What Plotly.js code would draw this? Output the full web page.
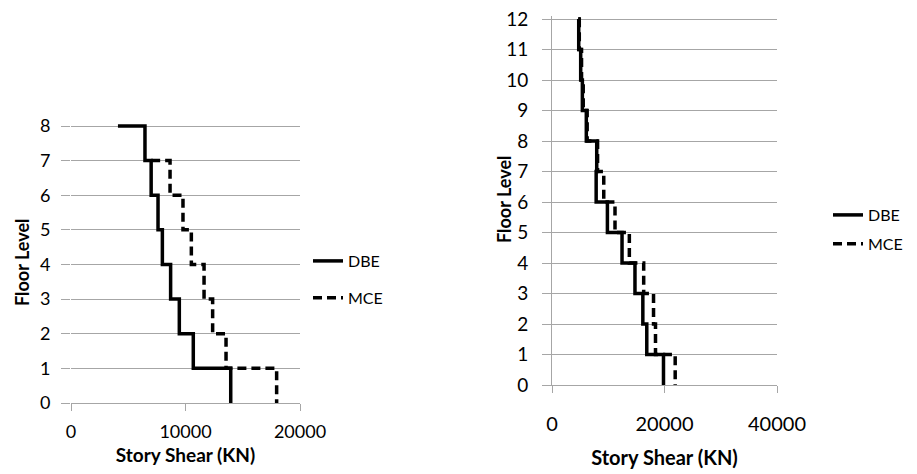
<!DOCTYPE html>
<html>
<head>
<meta charset="utf-8">
<script src="https://cdn.plot.ly/plotly-3.0.1.min.js"></script>
<style>html,body{margin:0;padding:0;background:#fff;}#chart{width:917px;height:474px;}</style>
</head>
<body>
<div id="chart"></div>
<script>
// Left building (8 floors)
const leftFloorsDBE = [8, 7, 6, 5, 4, 3, 2, 1, 0];
const leftDBE = [4100, 6460, 7000, 7600, 7980, 8700, 9460, 10680, 13950];
const leftFloorsMCE = [7, 6, 5, 4, 3, 2, 1, 0];
const leftMCE = [7000, 8650, 9780, 10510, 11620, 12370, 13540, 17960];

// Right building (12 floors)
const rightFloors = [12, 11, 10, 9, 8, 7, 6, 5, 4, 3, 2, 1, 0];
const rightDBE = [4650, 4750, 5100, 5400, 6100, 7950, 7850, 9850, 12450, 14750, 16150, 16850, 19820];
const rightMCE = [4700, 4850, 5250, 5550, 6250, 8100, 9200, 11200, 13750, 16300, 18050, 18400, 21900];

const seriesNames = ['DBE', 'MCE'];
const leftXTicks = [0, 10000, 20000];
const rightXTicks = [0, 20000, 40000];
const xTitle = 'Story Shear (KN)';
const yTitle = 'Floor Level';

const W = 917, H = 474;
const FONT = 'Lato, "Open Sans", sans-serif';
const GRID = '#a6a6a6';

function px(x) { return x / W; }
function py(y) { return 1 - y / H; }

const traces = [
  {x: leftDBE, y: leftFloorsDBE, name: seriesNames[0], xaxis: 'x', yaxis: 'y', mode: 'lines',
   line: {shape: 'hv', color: '#000', width: 3.5}, legend: 'legend', legendgroup: 'a'},
  {x: leftMCE, y: leftFloorsMCE, name: seriesNames[1], xaxis: 'x', yaxis: 'y', mode: 'lines',
   line: {shape: 'hv', color: '#000', width: 3.5, dash: '9px,5px'}, legend: 'legend', legendgroup: 'b'},
  {x: rightDBE, y: rightFloors, name: seriesNames[0], xaxis: 'x2', yaxis: 'y2', mode: 'lines',
   line: {shape: 'hv', color: '#000', width: 3.5}, legend: 'legend2', legendgroup: 'c'},
  {x: rightMCE, y: rightFloors, name: seriesNames[1], xaxis: 'x2', yaxis: 'y2', mode: 'lines',
   line: {shape: 'hv', color: '#000', width: 3.5, dash: '9px,5px'}, legend: 'legend2', legendgroup: 'd'}
];

// pixel geometry
const L = {x0: 71, x1: 300, yBottom: 403, yTop: 126, ymax: 8, yext: 0.06};
const R = {x0: 552, x1: 777, yBottom: 385, yTop: 19, ymax: 12, yext: 0.1};
function yDomain(g) {
  const per = (g.yBottom - g.yTop) / g.ymax;
  return [py(g.yBottom), py(g.yTop - per * g.yext)];
}

const xCommon = {
  showgrid: false, zeroline: false, showline: true, linecolor: GRID, linewidth: 1,
  ticks: 'outside', ticklen: 7, tickcolor: GRID, tickwidth: 1,
  fixedrange: true
};
const yCommon = {
  showgrid: true, gridcolor: GRID, gridwidth: 1, zeroline: false,
  ticks: 'outside', ticklen: 9, tickcolor: GRID, tickwidth: 1,
  dtick: 1, tick0: 0,
  fixedrange: true
};

const layout = {
  width: W, height: H,
  margin: {l: 0, r: 0, t: 0, b: 0},
  paper_bgcolor: '#fff', plot_bgcolor: 'rgba(0,0,0,0)',
  font: {family: FONT, color: '#000'},
  xaxis: Object.assign({}, xCommon, {
    domain: [px(L.x0), px(L.x1)], range: [0, 20000], tickvals: leftXTicks, ticktext: leftXTicks.map(String),
    ticklabelstandoff: 5, tickfont: {family: FONT, size: 18, color: '#000'},
    title: {text: '<b>' + xTitle + '</b>', font: {family: FONT, size: 19, color: '#000'}, standoff: 8}
  }),
  yaxis: Object.assign({}, yCommon, {
    domain: yDomain(L), range: [0, L.ymax + L.yext], showline: false,
    ticklabelstandoff: 7, tickfont: {family: FONT, size: 18, color: '#000'}
  }),
  xaxis2: Object.assign({}, xCommon, {
    domain: [px(R.x0), px(R.x1)], range: [0, 40000], tickvals: rightXTicks, ticktext: rightXTicks.map(String),
    anchor: 'y2', ticklabelstandoff: 14, tickfont: {family: FONT, size: 20, color: '#000'},
    title: {text: '<b>' + xTitle + '</b>', font: {family: FONT, size: 20, color: '#000'}, standoff: 16}
  }),
  yaxis2: Object.assign({}, yCommon, {
    domain: yDomain(R), range: [0, R.ymax + R.yext], anchor: 'x2', showline: true, linecolor: GRID,
    ticklabelstandoff: 10, tickfont: {family: FONT, size: 19, color: '#000'}
  }),
  annotations: [
    {text: '<b>' + yTitle + '</b>', xref: 'paper', yref: 'paper', x: px(22), y: py(263),
     xanchor: 'center', yanchor: 'middle', textangle: -90, showarrow: false,
     font: {family: FONT, size: 18, color: '#000'}},
    {text: '<b>' + yTitle + '</b>', xref: 'paper', yref: 'paper', x: px(504), y: py(200),
     xanchor: 'center', yanchor: 'middle', textangle: -90, showarrow: false,
     font: {family: FONT, size: 18, color: '#000'}}
  ],
  showlegend: true,
  legend: {
    x: px(308), y: py(244), xanchor: 'left', yanchor: 'top',
    bgcolor: 'rgba(0,0,0,0)', font: {family: FONT, size: 16, color: '#000'},
    tracegroupgap: 13, itemwidth: 30
  },
  legend2: {
    x: px(828), y: py(198), xanchor: 'left', yanchor: 'top',
    bgcolor: 'rgba(0,0,0,0)', font: {family: FONT, size: 16, color: '#000'},
    tracegroupgap: 5, itemwidth: 30
  }
};

Plotly.newPlot('chart', traces, layout, {displayModeBar: false, staticPlot: true});
</script>
</body>
</html>
